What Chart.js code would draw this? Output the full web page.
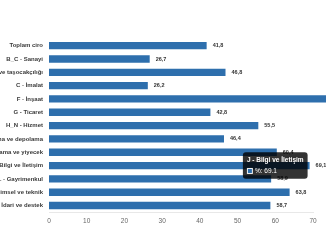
<!DOCTYPE html>
<html>
<head>
<meta charset="utf-8">
<script src="https://cdn.jsdelivr.net/npm/chart.js@4"></script>
<style>
  html, body { margin: 0; padding: 0; background: #fff; }
  #wrap { width: 326px; height: 245px; position: relative; }
</style>
</head>
<body>
<div id="wrap"><canvas id="chart"></canvas></div>
<script>
const SECTORS = [
    'Toplam ciro',
    'B_C - Sanayi',
    'B - Madencilik ve taşocakçılığı',
    'C - İmalat',
    'F - İnşaat',
    'G - Ticaret',
    'H_N - Hizmet',
    'H - Ulaştırma ve depolama',
    'I - Konaklama ve yiyecek',
    'J - Bilgi ve İletişim',
    'L - Gayrimenkul',
    'M - Mesleki, bilimsel ve teknik',
    'N - İdari ve destek'
];
const PERCENT = [41.8, 26.7, 46.8, 26.2, 85.0, 42.8, 55.5, 46.4, 60.4, 69.1, 58.9, 63.8, 58.7];
const X_MAX = 70;
const ACTIVE_INDEX = 9;

const BAR_COLOR = '#2e6fad';
const FONT = 'Arial, "Liberation Sans", sans-serif';

// value labels at the end of each bar, comma as decimal mark
const valueLabels = {
    id: 'valueLabels',
    afterDatasetsDraw(chart) {
        const { ctx } = chart;
        const meta = chart.getDatasetMeta(0);
        ctx.save();
        ctx.font = 'bold 5.5px ' + FONT;
        ctx.fillStyle = '#333';
        ctx.textBaseline = 'middle';
        meta.data.forEach((bar, i) => {
            ctx.fillText(PERCENT[i].toFixed(1).replace('.', ','), bar.x + 6, bar.y);
        });
        ctx.restore();
    }
};

const chart = new Chart(document.getElementById('chart'), {
    type: 'bar',
    data: {
        labels: SECTORS,
        datasets: [{
            label: '%',
            data: PERCENT,
            backgroundColor: BAR_COLOR,
            barPercentage: 0.55,
            categoryPercentage: 1,
            clip: false
        }]
    },
    options: {
        indexAxis: 'y',
        responsive: true,
        maintainAspectRatio: false,
        animation: false,
        layout: { padding: { top: 39, bottom: 15, right: 13, left: 0 } },
        scales: {
            x: {
                min: 0,
                max: X_MAX,
                grid: { display: false, drawTicks: false },
                border: { color: '#e8e8e8' },
                ticks: { stepSize: 10, color: '#666', font: { family: FONT, size: 6.5 }, padding: 5 }
            },
            y: {
                grid: { display: false, drawTicks: false },
                border: { display: false },
                ticks: { color: '#3a3a3a', font: { family: FONT, size: 6, weight: 'bold' }, padding: 6 },
                afterFit(scale) { scale.width = 49; }
            }
        },
        plugins: {
            legend: { display: false },
            tooltip: {
                xAlign: 'right',
                backgroundColor: 'rgba(0,0,0,0.8)',
                titleFont: { family: FONT, size: 6.5, weight: 'bold' },
                bodyFont: { family: FONT, size: 6.5 },
                padding: 4,
                boxWidth: 6,
                boxHeight: 6,
                caretSize: 0,
                caretPadding: 2,
                cornerRadius: 3,
                titleMarginBottom: 3
            }
        }
    },
    plugins: [valueLabels]
});

chart.tooltip.setActiveElements([{ datasetIndex: 0, index: ACTIVE_INDEX }], { x: 0, y: 0 });
chart.update();
</script>
</body>
</html>
